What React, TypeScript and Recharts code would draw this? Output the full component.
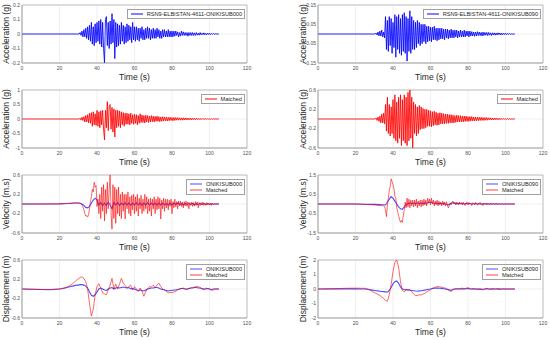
import React from 'react';
import { LineChart, Line, XAxis, YAxis, CartesianGrid, ReferenceArea } from 'recharts';

// ---------- shared ----------
const TIME_TICKS = [0, 20, 40, 60, 80, 100, 120];
const TIME_DOMAIN: [number, number] = [0, 120];

// ---------- acceleration, recorded & matched (step 0.5 s from 31 s) ----------
const ACC_START = 31;
const ACC_STEP = 0.5;
const ACC_LEAD_T = [0, 30.5];
const ACC_LEAD_V = [0, 0];

const ACC000_REC = [
  0.01, -0.01, 0.02, -0.02, 0.03, -0.02, 0.04, -0.03, 0.05, -0.04,
  0.06, -0.05, 0.08, -0.07, 0.05, -0.08, 0.07, -0.06, 0.08, -0.05,
  0.09, -0.07, 0.1, -0.09, 0.08, -0.1, -0.2, 0.1, 0.12, -0.08,
  0.08, -0.1, 0.09, -0.07, 0.14, -0.06, 0.1, -0.17, 0.08, -0.09,
  0.07, -0.08, 0.06, -0.07, 0.08, -0.05, 0.06, -0.07, 0.05, -0.06,
  0.07, -0.05, 0.06, -0.04, 0.05, -0.06, 0.08, -0.04, 0.05, -0.05,
  0.05, -0.04, 0.04, -0.05, 0.04, -0.03, 0.05, -0.04, 0.03, -0.04,
  0.04, -0.03, 0.05, -0.03, 0.04, -0.04, 0.03, -0.03, 0.04, -0.03,
  0.03, -0.03, 0.04, -0.02, 0.03, -0.03, 0.02, -0.03, 0.03, -0.02,
  0.03, -0.02, 0.02, -0.02, 0.03, -0.02, 0.02, -0.02, 0.02, -0.02,
  0.02, -0.015, 0.02, -0.01, 0.015, -0.02, 0.01, -0.015, 0.02, -0.01,
  0.015, -0.01, 0.01, -0.01, 0.01, -0.015, 0.01, -0.01, 0.01, -0.01,
  0.01, -0.01, 0.008, -0.01, 0.01, -0.008, 0.006, -0.008, 0.01, -0.006,
  0.006, -0.005, 0.008, -0.006, 0.005, -0.005, 0.006, -0.004, 0.005, -0.004,
  0.004, -0.003, 0.004, -0.003, 0.003, -0.002, 0.002, -0.001,
  0,
];

const ACC090_REC = [
  0.005, -0.005, 0.01, -0.01, 0.015, -0.01, 0.02, -0.015, 0.01, -0.02,
  0.09, -0.08, 0.07, -0.09, 0.09, -0.06, 0.08, -0.1, 0.06, -0.07,
  0.1, -0.12, 0.09, -0.08, 0.1, -0.1, 0.08, -0.11, 0.1, -0.09,
  0.11, -0.1, 0.09, -0.14, 0.08, -0.09, 0.12, -0.1, 0.09, -0.08,
  0.07, -0.08, 0.06, -0.07, 0.07, -0.05, 0.06, -0.06, 0.05, -0.05,
  0.05, -0.04, 0.05, -0.05, 0.04, -0.04, 0.04, -0.035, 0.035, -0.04,
  0.035, -0.03, 0.04, -0.03, 0.03, -0.035, 0.03, -0.03, 0.03, -0.025,
  0.03, -0.025, 0.025, -0.03, 0.025, -0.02, 0.025, -0.025, 0.02, -0.02,
  0.025, -0.02, 0.02, -0.02, 0.02, -0.015, 0.02, -0.02, 0.015, -0.015,
  0.02, -0.015, 0.015, -0.015, 0.02, -0.015, 0.015, -0.01, 0.015, -0.015,
  0.015, -0.01, 0.012, -0.01, 0.01, -0.012, 0.01, -0.01, 0.012, -0.008,
  0.01, -0.008, 0.008, -0.01, 0.01, -0.008, 0.008, -0.006, 0.008, -0.008,
  0.008, -0.006, 0.006, -0.008, 0.006, -0.005, 0.006, -0.006, 0.005, -0.005,
  0.006, -0.004, 0.005, -0.005, 0.004, -0.004, 0.004, -0.003, 0.004, -0.003,
  0.003, -0.003, 0.003, -0.002, 0.002, -0.002, 0.001, -0.001,
  0,
];

const ACC000_MATCHED = [
  0.03, -0.04, 0.06, -0.05, 0.08, -0.1, 0.12, -0.1, 0.15, -0.13,
  0.2, -0.15, 0.22, -0.25, 0.25, -0.2, 0.18, -0.22, 0.3, -0.25,
  0.25, -0.3, 0.28, -0.2, 0.3, -0.35, -0.72, 0.3, -0.3, 0.6,
  -0.4, 0.45, 0.5, -0.35, 0.4, -0.45, 0.35, -0.62, 0.3, -0.3,
  0.3, -0.25, 0.28, -0.3, 0.25, -0.2, 0.22, -0.25, 0.2, -0.18,
  0.2, -0.18, 0.18, -0.2, 0.2, -0.15, 0.15, -0.18, 0.16, -0.15,
  0.15, -0.2, 0.12, -0.15, 0.18, -0.12, 0.14, -0.12, 0.12, -0.14,
  0.13, -0.1, 0.12, -0.12, 0.1, -0.1, 0.12, -0.09, 0.1, -0.1,
  0.09, -0.08, 0.1, -0.08, 0.08, -0.09, 0.07, -0.08, 0.08, -0.07,
  0.07, -0.06, 0.06, -0.07, 0.06, -0.06, 0.06, -0.05, 0.05, -0.06,
  0.05, -0.05, 0.05, -0.04, 0.05, -0.04, 0.04, -0.04, 0.04, -0.04,
  0.04, -0.035, 0.035, -0.03, 0.035, -0.03, 0.03, -0.03, 0.03, -0.03,
  0.03, -0.025, 0.025, -0.025, 0.025, -0.02, 0.02, -0.02, 0.02, -0.02,
  0.02, -0.015, 0.015, -0.015, 0.015, -0.012, 0.012, -0.01, 0.01, -0.01,
  0.008, -0.008, 0.006, -0.005, 0.004, -0.003, 0.002, -0.001,
  0,
];

const ACC090_MATCHED = [
  0.02, -0.03, 0.04, -0.05, 0.06, -0.08, 0.1, -0.08, 0.12, -0.1,
  0.3, -0.25, 0.45, -0.3, 0.3, -0.35, 0.25, -0.3, 0.4, -0.4,
  0.5, -0.45, 0.35, -0.5, 0.45, -0.4, 0.5, -0.55, 0.4, -0.45,
  0.5, -0.5, 0.45, -0.55, 0.55, -0.45, 0.62, -0.4, 0.45, -0.6,
  0.35, -0.3, 0.3, -0.35, 0.25, -0.3, 0.28, -0.22, 0.25, -0.2,
  0.22, -0.2, 0.2, -0.18, 0.2, -0.15, 0.18, -0.15, 0.17, -0.16,
  0.15, -0.14, 0.16, -0.12, 0.14, -0.13, 0.12, -0.12, 0.13, -0.1,
  0.12, -0.1, 0.11, -0.1, 0.1, -0.09, 0.1, -0.09, 0.09, -0.08,
  0.09, -0.08, 0.08, -0.08, 0.07, -0.07, 0.08, -0.06, 0.07, -0.06,
  0.07, -0.06, 0.06, -0.06, 0.06, -0.05, 0.06, -0.05, 0.05, -0.05,
  0.05, -0.04, 0.05, -0.04, 0.04, -0.04, 0.04, -0.035, 0.04, -0.035,
  0.035, -0.03, 0.035, -0.03, 0.03, -0.03, 0.03, -0.025, 0.03, -0.025,
  0.025, -0.02, 0.025, -0.02, 0.02, -0.02, 0.02, -0.015, 0.02, -0.015,
  0.015, -0.015, 0.015, -0.012, 0.012, -0.01, 0.01, -0.01, 0.01, -0.008,
  0.008, -0.006, 0.006, -0.005, 0.004, -0.003, 0.002, -0.001,
  0,
];

// ---------- velocity ----------
const VEL000_REC_LEAD_T = [0, 20, 25, 28];
const VEL000_REC_LEAD_V = [0, 0.003, 0.01, 0.02];
const VEL000_REC_START = 30;
const VEL000_REC_STEP = 1;
const VEL000_REC = [
  0.02, 0.015, 0.0, -0.03, -0.07, -0.08, -0.05, 0.02, 0.08, 0.12,
  0.08, -0.02, 0.03, -0.03, 0.02, -0.03, 0.04, -0.02, -0.1, 0.03,
  -0.02, 0.03, -0.03, 0.02, -0.02, 0.03, -0.02, 0.02, -0.03, 0.02,
  -0.02, 0.03, -0.02, 0.02, -0.03, 0.02, -0.02, 0.03, -0.02, 0.02,
  -0.02, 0.02, -0.03, 0.02, -0.02, 0.02, -0.02, 0.01, -0.02, 0.02,
  -0.02, 0.02, -0.01, 0.02, -0.01, 0.01, -0.02, 0.01, -0.01, 0.01,
  -0.01, 0.01, -0.02, 0.01, -0.01, 0.01, -0.01, 0.01, -0.01, 0.01,
  -0.01, 0.005, -0.005, 0.005, 0, 0,
];

const VEL000_MAT_LEAD_T = [0, 10, 20, 25, 28, 29];
const VEL000_MAT_LEAD_V = [0, 0, 0.005, 0.015, 0.02, 0.02];
const VEL000_MAT_START = 30;
const VEL000_MAT_STEP = 0.5;
const VEL000_MAT = [
  0.02, 0.02, 0.01, 0.0, -0.02, -0.06, -0.12, -0.2, -0.25, -0.24,
  -0.27, -0.22, -0.1, 0.05, 0.15, 0.3, 0.25, 0.45, 0.35, 0.38,
  -0.05, 0.1, -0.2, 0.2, -0.3, 0.35, -0.15, 0.4, -0.35, 0.3,
  -0.2, 0.45, -0.1, 0.3, 0.62, -0.2, -0.52, 0.4, -0.3, 0.35,
  -0.4, 0.3, -0.2, 0.35, -0.25, 0.2, -0.3, 0.25, -0.15, 0.2,
  -0.31, 0.2, -0.1, 0.25, -0.2, 0.15, -0.25, 0.18, -0.12, 0.2,
  -0.2, 0.15, -0.15, 0.2, -0.25, 0.12, -0.1, 0.18, -0.2, 0.1,
  -0.15, 0.2, -0.1, 0.15, -0.2, 0.1, -0.15, 0.12, -0.25, 0.1,
  -0.1, 0.15, -0.2, 0.1, -0.12, 0.15, -0.1, 0.12, -0.31, 0.08,
  -0.1, 0.12, -0.15, 0.1, -0.08, 0.1, -0.12, 0.08, -0.05, 0.1,
  -0.2, 0.05, -0.08, 0.1, -0.06, 0.05, -0.1, 0.06, -0.04, 0.06,
  -0.05, 0.04, -0.08, 0.05, -0.04, 0.06, -0.05, 0.04, -0.1, 0.03,
  -0.03, 0.04, -0.05, 0.03, -0.04, 0.05, -0.03, 0.04, -0.08, 0.03,
  -0.03, 0.03, -0.02, 0.04, -0.03, 0.02, -0.03, 0.03, -0.02, 0.02,
  -0.02, 0.02, -0.03, 0.02, -0.01, 0.01, -0.01, 0.01, -0.005, 0.005,
  0,
];

const VEL090_REC_LEAD_T = [0, 20, 25];
const VEL090_REC_LEAD_V = [0, 0, -0.01];
const VEL090_REC_START = 30;
const VEL090_REC_STEP = 1;
const VEL090_REC = [
  -0.02, -0.02, -0.03, -0.03, -0.04, -0.04, -0.05, 0.1, 0.25, 0.38,
  0.3, 0.15, 0.0, -0.15, -0.25, -0.28, -0.15, -0.05, 0.02, 0.05,
  0.03, 0.05, 0.02, 0.06, 0.03, 0.05, 0.02, 0.05, 0.04, 0.08,
  0.1, 0.06, 0.04, 0.05, 0.02, 0.04, 0.01, 0.03, 0.0, -0.05,
  -0.02, 0.05, 0.06, 0.03, 0.02, 0.03, 0.01, 0.02, 0.0, 0.02,
  0.01, 0.02, 0.0, 0.01, 0.02, 0.0, 0.01, 0.0, 0.01, 0.0,
  0.01, 0.0, 0.01, 0.0, 0.0, 0.01, 0.0, 0.0, 0.0, 0.0,
  0, 0, 0, 0, 0, 0,
];

const VEL090_MAT_LEAD_T = [0, 20, 25, 30, 34];
const VEL090_MAT_LEAD_V = [0, 0, -0.02, -0.05, -0.08];
const VEL090_MAT_START = 35;
const VEL090_MAT_STEP = 0.5;
const VEL090_MAT = [
  -0.1, -0.12, -0.3, -0.65, -0.1, 0.3, 0.7, 0.9, 1.3, 1.15,
  1.0, 0.8, 0.4, 0.3, -0.2, -0.4, -0.6, -0.8, -0.95, -0.85,
  -0.95, -0.6, -0.3, 0.1, -0.2, 0.3, -0.15, 0.25, -0.2, 0.2,
  -0.1, 0.2, -0.15, 0.2, -0.1, 0.25, -0.2, 0.15, -0.1, 0.2,
  -0.15, 0.2, -0.1, 0.25, -0.05, 0.2, -0.1, 0.3, 0.05, 0.25,
  -0.05, 0.3, 0.0, 0.2, -0.1, 0.15, -0.05, 0.2, -0.1, 0.15,
  -0.05, 0.1, -0.1, 0.15, -0.05, 0.1, -0.1, 0.12, -0.05, -0.2,
  -0.1, 0.05, -0.05, 0.1, 0.15, 0.0, 0.1, -0.05, 0.1, 0.05,
  -0.05, 0.1, 0.0, 0.08, -0.05, 0.1, 0.0, -0.08, 0.05, 0.1,
  -0.05, 0.08, 0.0, 0.05, -0.08, 0.06, 0.02, -0.05, 0.08, 0.0,
  -0.06, 0.05, 0.0, 0.08, -0.04, 0.02, -0.08, 0.05, 0.0, 0.04,
  -0.05, 0.04, 0.0, -0.04, 0.05, 0.0, -0.03, 0.04, 0.0, -0.03,
  0.03, 0.0, -0.03, 0.03, 0.0, -0.02, 0.02, 0.0, -0.02, 0.02,
  0.0, -0.02, 0.02, 0.0, -0.01, 0.01, 0.0, -0.005, 0.005, 0,
  0,
];

// ---------- displacement ----------
const DIS000_LEAD_T = [0, 10, 15];
const DIS000_REC_LEAD_V = [0, -0.01, -0.015];
const DIS000_MAT_LEAD_V = [0, -0.01, -0.01];
const DIS000_START = 20;
const DIS000_STEP = 1;
const DIS000_REC = [
  0.0, 0.005, 0.01, 0.02, 0.03, 0.04, 0.05, 0.06, 0.07, 0.08,
  0.08, 0.09, 0.09, 0.08, 0.06, 0.02, -0.06, -0.13, -0.15, -0.12,
  -0.06, 0.0, 0.02, 0.0, -0.02, -0.03, 0.0, 0.02, 0.03, 0.0,
  0.02, 0.03, 0.02, 0.03, 0.04, 0.03, 0.02, 0.03, 0.0, 0.01,
  0.0, -0.02, -0.03, -0.02, -0.03, -0.04, -0.02, 0.0, 0.01, 0.02,
  0.02, 0.03, 0.03, 0.02, 0.0, -0.01, -0.02, -0.03, -0.04, -0.03,
  -0.03, -0.02, -0.02, -0.01, 0.0, 0.01, 0.01, 0.0, 0.0, 0.01,
  0.02, 0.02, 0.03, 0.03, 0.02, 0.02, 0.01, 0.0, 0.0, 0.01,
  0.0, -0.01, 0.0, 0.0, 0.0, 0.0,
];
const DIS000_MAT = [
  0.0, 0.01, 0.02, 0.03, 0.04, 0.06, 0.08, 0.11, 0.14, 0.18,
  0.21, 0.24, 0.25, 0.22, 0.15, 0.0, -0.3, -0.56, -0.42, -0.12,
  0.05, 0.11, 0.02, -0.08, -0.1, -0.12, -0.02, 0.08, 0.22, 0.0,
  0.1, 0.0, 0.1, 0.22, 0.12, 0.08, 0.02, 0.05, 0.08, -0.02,
  0.05, 0.0, -0.05, 0.02, -0.05, -0.15, -0.05, 0.0, 0.05, 0.04,
  0.08, 0.03, 0.08, 0.12, 0.05, 0.0, -0.02, -0.05, -0.08, -0.07,
  -0.08, -0.06, -0.05, -0.02, 0.0, 0.01, 0.02, 0.0, -0.01, 0.01,
  0.02, 0.03, 0.04, 0.05, 0.05, 0.03, 0.0, -0.02, 0.02, 0.01,
  0.0, -0.03, -0.02, 0.0, 0.0, 0.0,
];

const DIS090_LEAD_T = [0, 10, 15, 20, 23];
const DIS090_REC_LEAD_V = [0, 0.01, 0.01, 0.01, 0.005];
const DIS090_MAT_LEAD_V = [0, 0.02, 0.05, 0.06, 0.05];
const DIS090_START = 25;
const DIS090_STEP = 1;
const DIS090_REC = [
  0.0, -0.02, -0.04, -0.06, -0.08, -0.1, -0.12, -0.13, -0.15, -0.17,
  -0.18, -0.2, -0.22, -0.1, 0.1, 0.35, 0.5, 0.55, 0.4, 0.15,
  0.0, -0.05, -0.03, -0.05, -0.08, -0.1, -0.12, -0.14, -0.15, -0.13,
  -0.12, -0.1, -0.08, -0.05, -0.02, 0.0, 0.03, 0.05, 0.06, 0.06,
  0.05, 0.04, 0.02, 0.0, -0.03, -0.06, -0.1, -0.02, 0.0, 0.01,
  0.0, 0.01, 0.02, 0.01, 0.02, 0.03, 0.01, 0.0, 0.01, 0.0,
  -0.01, 0.0, -0.01, -0.02, 0.0, 0.02, 0.0, -0.01, 0.01, 0.0,
  0.0, 0.01, -0.01, 0.0, 0.0, 0.0, 0.0, 0.0, 0.0, 0.0, 0.0,
];
const DIS090_MAT = [
  0.05, 0.02, -0.02, -0.1, -0.18, -0.25, -0.3, -0.38, -0.45, -0.55,
  -0.65, -0.8, -0.85, -0.4, 0.3, 1.2, 1.85, 2.0, 1.5, 0.5,
  -0.1, -0.2, -0.05, -0.1, -0.05, -0.2, -0.35, -0.45, -0.45, -0.4,
  -0.42, -0.35, -0.3, -0.2, -0.12, -0.05, 0.05, 0.1, 0.15, 0.16,
  0.15, 0.12, 0.1, 0.05, 0.0, -0.1, -0.18, -0.05, 0.0, 0.02,
  0.0, 0.03, 0.06, 0.02, 0.05, 0.1, 0.03, 0.0, 0.02, 0.0,
  -0.02, 0.0, -0.03, -0.06, 0.0, 0.05, 0.0, -0.02, 0.02, 0.0,
  0.0, 0.02, -0.02, 0.0, 0.01, 0.0, -0.01, 0.0, 0.0, 0.0, 0.0,
];

// ---------- axis ticks ----------
const TICKS_ACC000 = [-0.2, -0.1, 0, 0.1, 0.2];
const TICKS_ACC090 = [-0.15, -0.1, -0.05, 0, 0.05, 0.1, 0.15];
const TICKS_ACC000_M = [-1, -0.5, 0, 0.5, 1];
const TICKS_ACC090_M = [-0.6, -0.4, -0.2, 0, 0.2, 0.4, 0.6];
const TICKS_VEL000 = [-0.6, -0.4, -0.2, 0, 0.2, 0.4, 0.6];
const TICKS_VEL090 = [-1.5, -1, -0.5, 0, 0.5, 1, 1.5];
const TICKS_DIS000 = [-0.6, -0.4, -0.2, 0, 0.2, 0.4, 0.6];
const TICKS_DIS090 = [-2, -1, 0, 1, 2];

type Pt = { t: number; v: number };
function build(leadT: number[], leadV: number[], start: number, step: number, vals: number[]): Pt[] {
  const pts: Pt[] = leadT.map((t, i) => ({ t, v: leadV[i] }));
  vals.forEach((v, i) => pts.push({ t: Math.round((start + i * step) * 100) / 100, v }));
  return pts;
}

const FONT = '"Liberation Sans", Arial, Helvetica, sans-serif';
const BLUE = '#0000ff';
const RED = '#ff0000';

type Series = { name: string; data: Pt[]; color: string; width: number; opacity?: number };

type PanelProps = {
  col: 0 | 1;
  row: number;
  ticks: number[];
  yTitle: string;
  series: Series[];
};

function Panel({ col, row, ticks, yTitle, series }: PanelProps) {
  const W = 275;
  const H = 85;
  const left = col * 275;
  const top = row * 85;
  const plotLeft = col === 0 ? 22 : 43;
  const rightMargin = col === 0 ? 28 : 7;
  const yW = 14;
  const dom: [number, number] = [ticks[0], ticks[ticks.length - 1]];
  const plotRight = left + W - rightMargin;
  const plotCenterX = left + (plotLeft + (W - rightMargin)) / 2;
  return (
    <>
      <div style={{ position: 'absolute', left, top, width: W, height: H }}>
        <LineChart
          width={W}
          height={H}
          margin={{ top: 5, right: rightMargin, bottom: 2, left: plotLeft - yW }}
        >
          <CartesianGrid stroke="#e6e6e6" strokeWidth={0.6} />
          <XAxis
            dataKey="t"
            type="number"
            domain={TIME_DOMAIN}
            ticks={TIME_TICKS}
            allowDataOverflow
            height={20}
            tickLine={false}
            tickSize={2}
            tickMargin={1}
            axisLine={{ stroke: '#a0a0a0', strokeWidth: 0.6 }}
            tick={{ fontSize: 5, fill: '#4d4d4d', fontFamily: FONT }}
          />
          <YAxis
            type="number"
            domain={dom}
            ticks={ticks}
            allowDataOverflow
            width={yW}
            tickLine={false}
            tickSize={1}
            tickMargin={1}
            axisLine={{ stroke: '#a0a0a0', strokeWidth: 0.6 }}
            tick={{ fontSize: 5, fill: '#4d4d4d', fontFamily: FONT }}
          />
          <ReferenceArea
            x1={TIME_DOMAIN[0]}
            x2={TIME_DOMAIN[1]}
            y1={dom[0]}
            y2={dom[1]}
            fill="none"
            stroke="#a0a0a0"
            strokeWidth={0.6}
          />
          {series.map((s) => (
            <Line
              key={s.name}
              data={s.data}
              dataKey="v"
              name={s.name}
              type="linear"
              stroke={s.color}
              strokeWidth={s.width}
              strokeOpacity={s.opacity ?? 1}
              dot={false}
              activeDot={false}
              isAnimationActive={false}
            />
          ))}
        </LineChart>
      </div>
      {/* y title */}
      <div
        style={{
          position: 'absolute',
          left: left + (col === 0 ? 6 : 28),
          top: top + 34,
          transform: 'translate(-50%, -50%) rotate(-90deg)',
          whiteSpace: 'nowrap',
          fontFamily: FONT,
          fontSize: 8.5,
          color: '#262626',
          lineHeight: 1,
        }}
      >
        {yTitle}
      </div>
      {/* x title */}
      <div
        style={{
          position: 'absolute',
          left: plotCenterX,
          top: top + 77,
          transform: 'translate(-50%, -50%)',
          whiteSpace: 'nowrap',
          fontFamily: FONT,
          fontSize: 8.5,
          color: '#262626',
          lineHeight: 1,
        }}
      >
        Time (s)
      </div>
      {/* legend */}
      <div
        style={{
          position: 'absolute',
          right: 550 - (plotRight - 2),
          top: top + 9,
          background: '#fff',
          border: '0.6px solid #a0a0a0',
          padding: '1px 2px 1px 1px',
          fontFamily: FONT,
          fontSize: 5.6,
          color: '#262626',
        }}
      >
        {series.map((s) => (
          <div key={s.name} style={{ display: 'flex', alignItems: 'center', height: 6, lineHeight: '6px' }}>
            <svg width={14} height={4} style={{ display: 'block', flex: '0 0 auto', margin: '0 3px 0 1px' }}>
              <line x1={1} y1={2} x2={13} y2={2} stroke={s.color} strokeOpacity={s.opacity ?? 1} strokeWidth={1} />
            </svg>
            <span style={{ whiteSpace: 'nowrap' }}>{s.name}</span>
          </div>
        ))}
      </div>
    </>
  );
}

export default function App() {
  const acc000 = build(ACC_LEAD_T, ACC_LEAD_V, ACC_START, ACC_STEP, ACC000_REC);
  const acc090 = build(ACC_LEAD_T, ACC_LEAD_V, ACC_START, ACC_STEP, ACC090_REC);
  const acc000m = build(ACC_LEAD_T, ACC_LEAD_V, ACC_START, ACC_STEP, ACC000_MATCHED);
  const acc090m = build(ACC_LEAD_T, ACC_LEAD_V, ACC_START, ACC_STEP, ACC090_MATCHED);
  const vel000r = build(VEL000_REC_LEAD_T, VEL000_REC_LEAD_V, VEL000_REC_START, VEL000_REC_STEP, VEL000_REC);
  const vel000m = build(VEL000_MAT_LEAD_T, VEL000_MAT_LEAD_V, VEL000_MAT_START, VEL000_MAT_STEP, VEL000_MAT);
  const vel090r = build(VEL090_REC_LEAD_T, VEL090_REC_LEAD_V, VEL090_REC_START, VEL090_REC_STEP, VEL090_REC);
  const vel090m = build(VEL090_MAT_LEAD_T, VEL090_MAT_LEAD_V, VEL090_MAT_START, VEL090_MAT_STEP, VEL090_MAT);
  const dis000r = build(DIS000_LEAD_T, DIS000_REC_LEAD_V, DIS000_START, DIS000_STEP, DIS000_REC);
  const dis000m = build(DIS000_LEAD_T, DIS000_MAT_LEAD_V, DIS000_START, DIS000_STEP, DIS000_MAT);
  const dis090r = build(DIS090_LEAD_T, DIS090_REC_LEAD_V, DIS090_START, DIS090_STEP, DIS090_REC);
  const dis090m = build(DIS090_LEAD_T, DIS090_MAT_LEAD_V, DIS090_START, DIS090_STEP, DIS090_MAT);

  return (
    <div style={{ position: 'absolute', left: 0, top: 0, width: 550, height: 340, background: '#fff', overflow: 'hidden' }}>
      <Panel col={0} row={0} ticks={TICKS_ACC000} yTitle="Acceleration (g)"
        series={[{ name: 'RSN9-ELBISTAN-4611-ONIKISUB000', data: acc000, color: BLUE, width: 0.85 }]} />
      <Panel col={1} row={0} ticks={TICKS_ACC090} yTitle="Acceleration (g)"
        series={[{ name: 'RSN9-ELBISTAN-4611-ONIKISUB090', data: acc090, color: BLUE, width: 0.85 }]} />
      <Panel col={0} row={1} ticks={TICKS_ACC000_M} yTitle="Acceleration (g)"
        series={[{ name: 'Matched', data: acc000m, color: RED, width: 0.85 }]} />
      <Panel col={1} row={1} ticks={TICKS_ACC090_M} yTitle="Acceleration (g)"
        series={[{ name: 'Matched', data: acc090m, color: RED, width: 0.85 }]} />
      <Panel col={0} row={2} ticks={TICKS_VEL000} yTitle="Velocity (m.s)"
        series={[
          { name: 'ONIKISUB000', data: vel000r, color: BLUE, width: 1.1, opacity: 0.7 },
          { name: 'Matched', data: vel000m, color: RED, width: 0.8, opacity: 0.75 },
        ]} />
      <Panel col={1} row={2} ticks={TICKS_VEL090} yTitle="Velocity (m.s)"
        series={[
          { name: 'ONIKISUB090', data: vel090r, color: BLUE, width: 1.1, opacity: 0.7 },
          { name: 'Matched', data: vel090m, color: RED, width: 0.8, opacity: 0.75 },
        ]} />
      <Panel col={0} row={3} ticks={TICKS_DIS000} yTitle="Displacement (m)"
        series={[
          { name: 'ONIKISUB000', data: dis000r, color: BLUE, width: 1.1, opacity: 0.7 },
          { name: 'Matched', data: dis000m, color: RED, width: 0.8, opacity: 0.75 },
        ]} />
      <Panel col={1} row={3} ticks={TICKS_DIS090} yTitle="Displacement (m)"
        series={[
          { name: 'ONIKISUB090', data: dis090r, color: BLUE, width: 1.1, opacity: 0.7 },
          { name: 'Matched', data: dis090m, color: RED, width: 0.8, opacity: 0.75 },
        ]} />
    </div>
  );
}
